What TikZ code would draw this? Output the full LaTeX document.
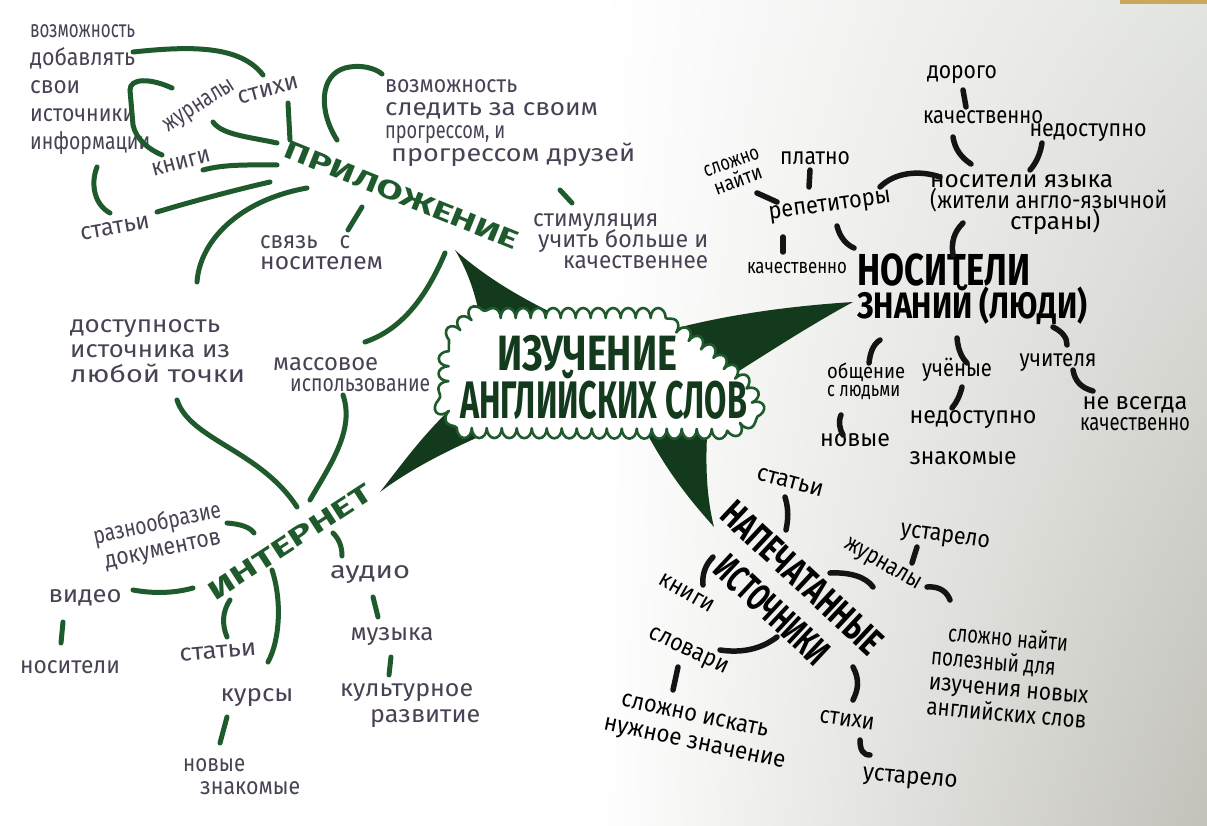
\documentclass[tikz,border=0pt]{standalone}
\usepackage{graphicx}
\usepackage{fontspec}
\setmainfont{Fira Sans}
\usetikzlibrary{shadings,decorations.pathmorphing}
\definecolor{ink}{HTML}{4A4254}
\definecolor{gr}{HTML}{1E5A2C}
\definecolor{dgr}{HTML}{143A1D}
\definecolor{paperA}{HTML}{E2E4E0}
\definecolor{paperB}{HTML}{C2C1BA}
\definecolor{tan}{HTML}{C9A85C}
\newsavebox\fwbox
\newcommand\nolsl{\lineskiplimit-1000pt\relax}
\newcommand\fwv[3]{\sbox\fwbox{#3}\pgfmathsetmacro\myhscale{#2/\the\wd\fwbox}\scalebox{\myhscale}[#1]{#3}}
\newcommand\fw[2]{\fwv{1.5}{#1}{#2}}
\tikzset{
  lt/.style={text=ink, inner sep=0pt, font={\fontsize{16}{#1}\selectfont\nolsl}, align=left},
  lt/.default=25,
  rt/.style={text=black, inner sep=0pt, font={\fontsize{16}{#1}\selectfont\nolsl}, align=left},
  rt/.default=25,
  gs/.style={draw=gr, line width=5pt, line cap=round},
  bs/.style={draw=black!92, line width=5.5pt, line cap=round},
  wedge/.style={fill=dgr, draw=none},
  cloudline/.style={draw=gr, line width=2.6pt, fill=white, line join=round,
     decorate, decoration={bumps, segment length=30pt, amplitude=10pt}},
}
\begin{document}
\begin{tikzpicture}[x=1pt,y=-1pt]
\useasboundingbox (0,0) rectangle (1207,826);
\fill[white] (0,0) rectangle (1207,826);
\shade[upper left=white, lower left=white, upper right=paperA, lower right=paperB] (600,0) rectangle (1207,826);
\fill[tan] (1120,0) rectangle (1207,4);

% ---------- wedges ----------
\path[wedge] (455,250) .. controls (470,275) and (478,300) .. (484,342) -- (592,332) .. controls (550,312) and (500,290) .. (455,250) -- cycle;
\path[wedge] (853,302) .. controls (790,306) and (720,315) .. (655,334) -- (712,388) .. controls (760,358) and (805,328) .. (853,302) -- cycle;
\path[wedge] (380,492) .. controls (405,460) and (425,432) .. (458,402) -- (518,420) .. controls (470,440) and (420,462) .. (380,492) -- cycle;
\path[wedge] (714,527) .. controls (690,500) and (665,470) .. (640,420) -- (708,420) .. controls (705,460) and (706,495) .. (714,527) -- cycle;

% ---------- cloud ----------
\path[cloudline] (449,340) -- (474,318) -- (655,318) -- (702,350) -- (746,388) -- (756,413) -- (730,429) -- (466,428) -- (448,410) -- cycle;
\node[text=dgr, inner sep=0pt, align=left, anchor=west, font={\fontsize{16}{48}\selectfont\nolsl\bfseries}] (centre) at (460,377)
  {\hspace*{37pt}\fwv{3.1}{180}{ИЗУЧЕНИЕ}\\\fwv{3.3}{287}{АНГЛИЙСКИХ СЛОВ}};

% ---------- ПРИЛОЖЕНИЕ ----------
\node[text=gr, inner sep=0pt, rotate=-22, font=\bfseries] (pril) at (402,195) {\fwv{2.6}{250}{ПРИЛОЖЕНИЕ}};
\node[lt=28, anchor=west] (vozm1) at (30,90) {\fw{105}{возможность}\\\fw{105}{добавлять}\\\fw{50}{свои}\\\fw{105}{источники}\\\fw{120}{информации}};
\node[lt, rotate=33] (zhurn1) at (200,107) {\fw{80}{журналы}};
\node[lt, rotate=15] (stihi1) at (268,90) {\fw{62}{стихи}};
\node[lt, rotate=15] (knigi1) at (181,163) {\fw{60}{книги}};
\node[lt, rotate=10] (stati1) at (115,228) {\fw{70}{статьи}};
\node[lt=21, anchor=west] (svyaz) at (260,253) {\fw{90}{связь\quad с}\\\fw{123}{носителем}};
\node[lt=23, anchor=west] (vozm2) at (385,123) {\fw{132}{возможность}\\\fw{213}{следить за своим}\\\fw{120}{прогрессом, и}\\\hspace*{6pt}\fw{244}{прогрессом друзей}};
\node[lt=21, anchor=west] (stim) at (533,241) {\fw{125}{стимуляция}\\\hspace*{5pt}\fw{170}{учить больше и}\\\hspace*{30pt}\fw{145}{качественнее}};
\node[lt, anchor=west] (dost) at (70,351) {\fw{150}{доступность}\\\fw{160}{источника из}\\\fw{175}{любой точки}};
\node[lt=21, anchor=west] (mass) at (273,375) {\fw{105}{массовое}\\\hspace*{17pt}\fw{140}{использование}};

\draw[gs] (133,52) .. controls (190,46) and (240,45) .. (263,75);
\draw[gs] (172,88) .. controls (150,78) and (130,78) .. (130,90) -- (133,125) .. controls (136,140) and (150,150) .. (162,155);
\draw[gs] (213,122) .. controls (222,135) and (250,137) .. (277,143);
\draw[gs] (288,103) -- (290,140);
\draw[gs] (203,170) .. controls (225,164) and (250,165) .. (277,165);
\draw[gs] (157,212) .. controls (190,202) and (235,190) .. (270,182);
\draw[gs] (97,167) .. controls (90,185) and (95,205) .. (110,213);
\draw[gs] (307,188) .. controls (240,200) and (200,240) .. (197,282);
\draw[gs] (362,207) -- (348,230);
\draw[gs] (337,140) .. controls (318,110) and (320,75) .. (345,68) .. controls (360,64) and (375,68) .. (382,74);
\draw[gs] (445,253) .. controls (425,300) and (400,330) .. (365,342);
\draw[gs] (560,190) -- (572,203);
\draw[gs] (177,400) .. controls (190,440) and (260,450) .. (297,507);
\draw[gs] (343,395) .. controls (355,430) and (330,465) .. (310,500);

% ---------- ИНТЕРНЕТ ----------
\node[text=gr, inner sep=0pt, rotate=33, font=\bfseries] (inet) at (290,542) {\fwv{2.6}{190}{ИНТЕРНЕТ}};
\node[lt=26, rotate=12, align=center] (razn) at (160,537) {\fw{130}{разнообразие}\\\fw{118}{документов}};
\node[lt] (video) at (85,598) {\fw{73}{видео}};
\node[lt] (nosit2) at (70,667) {\fw{100}{носители}};
\node[lt, rotate=5] (stati3) at (218,652) {\fw{77}{статьи}};
\node[lt] (kursy) at (257,698) {\fw{73}{курсы}};
\node[lt=23, anchor=west] (novye2) at (183,777) {\fw{62}{новые}\\\hspace*{17pt}\fw{100}{знакомые}};
\node[lt] (audio) at (370,575) {\fw{80}{аудио}};
\node[lt] (muzyka) at (392,637) {\fw{83}{музыка}};
\node[lt=26, anchor=west] (kult) at (340,706) {\fw{133}{культурное}\\\hspace*{30pt}\fw{110}{развитие}};

\draw[gs] (227,523) .. controls (240,524) and (250,527) .. (254,533);
\draw[gs] (133,590) .. controls (155,594) and (175,593) .. (193,588);
\draw[gs] (63,622) -- (61,643);
\draw[gs] (230,600) .. controls (222,612) and (222,625) .. (227,637);
\draw[gs] (272,570) .. controls (282,600) and (280,640) .. (268,662);
\draw[gs] (227,717) -- (220,743);
\draw[gs] (333,533) .. controls (340,540) and (342,548) .. (342,556);
\draw[gs] (373,597) -- (378,617);
\draw[gs] (391,657) -- (389,675);

% ---------- НОСИТЕЛИ ЗНАНИЙ ----------
\node[rt=32, anchor=west, font={\fontsize{16}{33}\selectfont\nolsl\bfseries}] (nosit) at (857,289) {\fwv{2.8}{173}{НОСИТЕЛИ}\\\fwv{2.3}{230}{ЗНАНИЙ (ЛЮДИ)}};
\node[rt] (dorogo) at (962,75) {\fw{70}{дорого}};
\node[rt] (kach1) at (983,117) {\fw{120}{качественно}};
\node[rt] (nedost1) at (1088,133) {\fw{117}{недоступно}};
\node[rt=21, anchor=west] (nosyaz) at (930,205) {\fw{183}{носители языка}\\\fw{237}{(жители англо-язычной}\\\hspace*{80pt}\fw{90}{страны)}};
\node[rt, rotate=8] (repet) at (830,207) {\fw{123}{репетиторы}};
\node[rt=20, rotate=20, align=center] (slozhno1) at (735,172) {\fwv{1.3}{58}{сложно}\\\fwv{1.3}{50}{найти}};
\node[rt] (platno) at (815,158) {\fw{70}{платно}};
\node[rt] (kach2) at (797,268) {\fwv{1.3}{100}{качественно}};
\node[rt=18, anchor=west] (obsh) at (827,381) {\fwv{1.3}{78}{общение}\\\fwv{1.3}{73}{с людьми}};
\node[rt] (uchen) at (957,370) {\fw{70}{учёные}};
\node[rt] (uchit) at (1058,363) {\fw{77}{учителя}};
\node[rt] (nedost2) at (973,420) {\fw{127}{недоступно}};
\node[rt=21, align=center] (nevs) at (1135,414) {\fw{105}{не всегда}\\\fw{110}{качественно}};
\node[rt] (novye1) at (855,440) {\fw{70}{новые}};
\node[rt] (znak1) at (963,458) {\fw{107}{знакомые}};

\draw[bs] (963,90) -- (966,107);
\draw[bs] (953,137) .. controls (955,150) and (962,158) .. (971,164);
\draw[bs] (1042,143) .. controls (1040,155) and (1036,163) .. (1030,170);
\draw[bs] (880,187) .. controls (895,172) and (920,170) .. (940,177);
\draw[bs] (757,193) -- (777,202);
\draw[bs] (810,170) -- (809,187);
\draw[bs] (783,237) -- (783,252);
\draw[bs] (837,226) .. controls (840,238) and (847,245) .. (854,248);
\draw[bs] (963,223) .. controls (954,232) and (951,242) .. (953,255);
\draw[bs] (880,340) .. controls (872,345) and (870,355) .. (869,363);
\draw[bs] (957,338) .. controls (958,350) and (962,358) .. (967,363);
\draw[bs] (1053,327) .. controls (1063,332) and (1067,338) .. (1067,345);
\draw[bs] (962,387) .. controls (960,395) and (957,402) .. (952,408);
\draw[bs] (1073,370) .. controls (1075,382) and (1082,388) .. (1093,391);
\draw[bs] (841,415) .. controls (838,422) and (840,430) .. (843,435);

% ---------- НАПЕЧАТАННЫЕ ИСТОЧНИКИ ----------
\node[rt=45, rotate=-43, align=center, font={\fontsize{16}{44}\selectfont\nolsl\bfseries}] (napech) at (787,594) {\fwv{2.4}{205}{НАПЕЧАТАННЫЕ}\\\fwv{2.4}{140}{ИСТОЧНИКИ}};
\node[rt, rotate=-15] (stati2) at (790,482) {\fw{68}{статьи}};
\node[rt, rotate=-8] (ustar1) at (945,538) {\fw{90}{устарело}};
\node[rt, rotate=-30] (zhurn2) at (882,565) {\fw{85}{журналы}};
\node[rt, anchor=west, rotate=-5] (slozhno2) at (930,668) {\hspace*{15pt}\fw{120}{сложно найти}\\\fw{125}{полезный для}\\\fw{160}{изучения новых}\\\fw{160}{английских слов}};
\node[rt, rotate=-30] (knigi2) at (687,593) {\fw{60}{книги}};
\node[rt, rotate=-25] (slovari) at (688,652) {\fw{85}{словари}};
\node[rt=27, rotate=-12] (slozhno3) at (697,732) {\hspace*{12pt}\fw{150}{сложно искать}\\\fw{185}{нужное значение}};
\node[rt, rotate=-8] (stihi2) at (847,720) {\fw{55}{стихи}};
\node[rt, rotate=-5] (ustar2) at (910,780) {\fw{95}{устарело}};

\draw[bs] (785,497) .. controls (789,510) and (788,520) .. (786,530);
\draw[bs] (917,547) -- (912,563);
\draw[bs] (830,573) .. controls (850,572) and (866,577) .. (873,587);
\draw[bs] (927,587) .. controls (940,586) and (947,592) .. (950,600);
\draw[bs] (713,557) .. controls (705,565) and (702,575) .. (703,585);
\draw[bs] (720,650) .. controls (740,653) and (760,650) .. (777,637);
\draw[bs] (678,667) -- (673,690);
\draw[bs] (853,667) .. controls (860,680) and (858,690) .. (853,700);
\draw[bs] (860,740) .. controls (860,750) and (863,755) .. (870,755);
\end{tikzpicture}
\end{document}
